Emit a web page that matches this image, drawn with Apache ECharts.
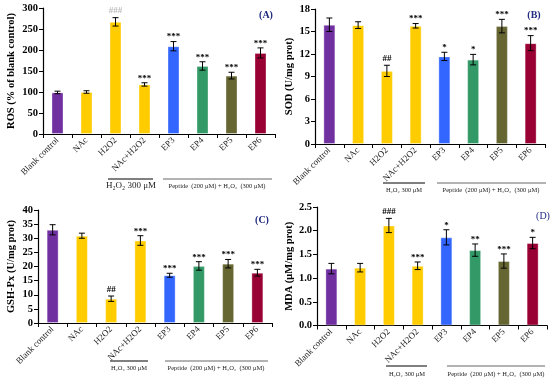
<!DOCTYPE html>
<html><head><meta charset="utf-8">
<script src="https://cdn.jsdelivr.net/npm/echarts@6/dist/echarts.min.js"></script>
<style>html,body{margin:0;padding:0;background:#fff}#c{width:558px;height:386px}</style>
</head><body><div id="c"></div>
<script>
const categories = ['Blank control','NAc','H2O2','NAc+H2O2','EP3','EP4','EP5','EP6'];
const barColors = ['#7030A0','#FFCC00','#FFCC00','#FFCC00','#3366FF','#339966','#666633','#990033'];

const rosValues = [99,100,267,118,209,162,139,193];
const rosErrors = [3,3,10,4,11,10,8,12];
const rosMarks = ['','','###','***','***','***','***','***'];

const sodValues = [15.9,15.85,9.75,15.76,11.68,11.25,15.72,13.45];
const sodErrors = [0.9,0.45,0.75,0.3,0.55,0.7,0.9,1.0];
const sodMarks = ['','','##','***','*','*','***','***'];

const gshValues = [33.0,30.9,8.6,29.2,16.9,20.2,21.0,17.8];
const gshErrors = [1.8,0.9,0.95,1.7,0.7,1.5,1.5,1.2];
const gshMarks = ['','','##','***','***','***','***','***'];

const mdaValues = [1.2,1.22,2.11,1.26,1.86,1.59,1.36,1.74];
const mdaErrors = [0.11,0.09,0.15,0.08,0.16,0.13,0.15,0.12];
const mdaMarks = ['','','###','***','*','**','***','*'];

const panels = [
  {name:'ROS (% of blank control)', values:rosValues, errors:rosErrors, marks:rosMarks, min:0, max:300, interval:50, dec:0, tag:'(A)',
   grid:{left:43, top:8, width:232, height:126}, nameGap:26, markFirst:'#bbbbbb'},
  {name:'SOD (U/mg prot)', values:sodValues, errors:sodErrors, marks:sodMarks, min:0, max:18, interval:3, dec:0, tag:'(B)',
   grid:{left:315, top:9, width:230, height:135}, nameGap:20},
  {name:'GSH-Px (U/mg prot)', values:gshValues, errors:gshErrors, marks:gshMarks, min:0, max:40, interval:5, dec:0, tag:'(C)',
   grid:{left:38, top:210, width:234, height:113}, nameGap:21},
  {name:'MDA (μM/mg prot)', values:mdaValues, errors:mdaErrors, marks:mdaMarks, min:0, max:2.5, interval:0.5, dec:1, tag:'(D)',
   grid:{left:317, top:207, width:230, height:118.5}, nameGap:20}
];

const FONT = 'Liberation Serif';
const grids = [], xAxes = [], yAxes = [], series = [];
panels.forEach((p, k) => {
  grids.push(Object.assign({containLabel:false}, p.grid));
  xAxes.push({
    type:'category', gridIndex:k, data:categories,
    axisLine:{show:true, lineStyle:{color:'#000', width:1.2}},
    axisTick:{show:true, alignWithLabel:false, length:4, lineStyle:{color:'#000'}},
    axisLabel:{interval:0, rotate:45, fontFamily:FONT, fontSize:9, color:'#222', margin:5}
  });
  yAxes.push({
    type:'value', gridIndex:k, min:p.min, max:p.max, interval:p.interval,
    name:p.name, nameLocation:'middle', nameGap:p.nameGap,
    nameTextStyle:{fontFamily:FONT, fontWeight:'bold', fontSize:10.5, color:'#000'},
    axisLine:{show:true, lineStyle:{color:'#000', width:1.2}},
    axisTick:{show:true, length:4, lineStyle:{color:'#000'}},
    splitLine:{show:false},
    axisLabel:{fontFamily:FONT, fontWeight:'bold', fontSize:10.5, color:'#000', margin:5,
      formatter:v => v.toFixed(p.dec)}
  });
  series.push({
    type:'bar', xAxisIndex:k, yAxisIndex:k, barWidth:12,
    data:p.values.map((v,i)=>({value:v, itemStyle:{color:barColors[i], borderColor:'rgba(255,255,255,0.35)', borderWidth:1}})),
    silent:true
  });
  series.push({
    type:'custom', xAxisIndex:k, yAxisIndex:k, z:5,
    data:p.values.map((v,i)=>[i, v, p.errors[i]]),
    encode:{x:0, y:1},
    renderItem:(params, api) => {
      const i = api.value(0), v = api.value(1), e = api.value(2);
      const t = api.coord([i, v+e]), b = api.coord([i, v-e]);
      const x = t[0], cw = 3;
      const mark = p.marks[params.dataIndex];
      const children = [
        {type:'line', shape:{x1:x, y1:t[1], x2:x, y2:b[1]}, style:{stroke:'#000', lineWidth:1}},
        {type:'line', shape:{x1:x-cw, y1:t[1], x2:x+cw, y2:t[1]}, style:{stroke:'#000', lineWidth:1}},
        {type:'line', shape:{x1:x-cw, y1:b[1], x2:x+cw, y2:b[1]}, style:{stroke:'#000', lineWidth:1}}
      ];
      if (mark) {
        const isHash = mark[0] === '#';
        children.push({type:'text', style:{x:x, y:t[1]-(isHash?2:0), text:mark, align:'center', verticalAlign:'bottom',
          font:'bold 9px ' + FONT, fill:(isHash && p.markFirst) ? p.markFirst : '#000'}});
      }
      return {type:'group', children};
    }
  });
});

const groupLine = (x1, x2, y, color) => ({type:'line', shape:{x1, y1:y, x2, y2:y}, style:{stroke:color, lineWidth:1}, silent:true});
const groupText = (x, y, text, size, weight) => ({type:'text', x, y, style:{text, align:'center', verticalAlign:'middle', font:(weight||'normal') + ' ' + size + 'px ' + FONT, fill:'#222'}, silent:true});
const tag = (x, y, text, weight) => ({type:'text', x, y, style:{text, align:'center', verticalAlign:'middle', font:(weight||'bold') + ' 10px ' + FONT, fill:'#1F2A80'}, silent:true});

const graphic = [
  groupLine(108,153,179,'#000'), groupLine(163,272,179,'#666'),
  groupText(131,186,'H₂O₂ 300 μM',9,'normal'), groupText(217,186,'Peptide  (200 μM) + H₂O₂  (300 μM)',6.5),
  groupLine(383,425,183,'#000'), groupLine(437,546,183,'#666'),
  groupText(404,190,'H₂O₂ 300 μM',6.5), groupText(491,190,'Peptide  (200 μM) + H₂O₂  (300 μM)',6.5),
  groupLine(110,148,361,'#000'), groupLine(165,268,361,'#666'),
  groupText(129,368,'H₂O₂ 300 μM',6.5), groupText(216,368,'Peptide  (200 μM) + H₂O₂  (300 μM)',6.5),
  groupLine(386,427,366,'#000'), groupLine(447,545,366,'#666'),
  groupText(407,374,'H₂O₂ 300 μM',6.5), groupText(496,374,'Peptide  (200 μM) + H₂O₂  (300 μM)',6.5),
  tag(266,15,'(A)'), tag(534,15,'(B)'), tag(262,220,'(C)'), tag(543,216,'(D)','normal')
];

const chart = echarts.init(document.getElementById('c'), null, {renderer:'canvas'});
chart.setOption({animation:false, backgroundColor:'#fff', grid:grids, xAxis:xAxes, yAxis:yAxes, series, graphic});
</script></body></html>
